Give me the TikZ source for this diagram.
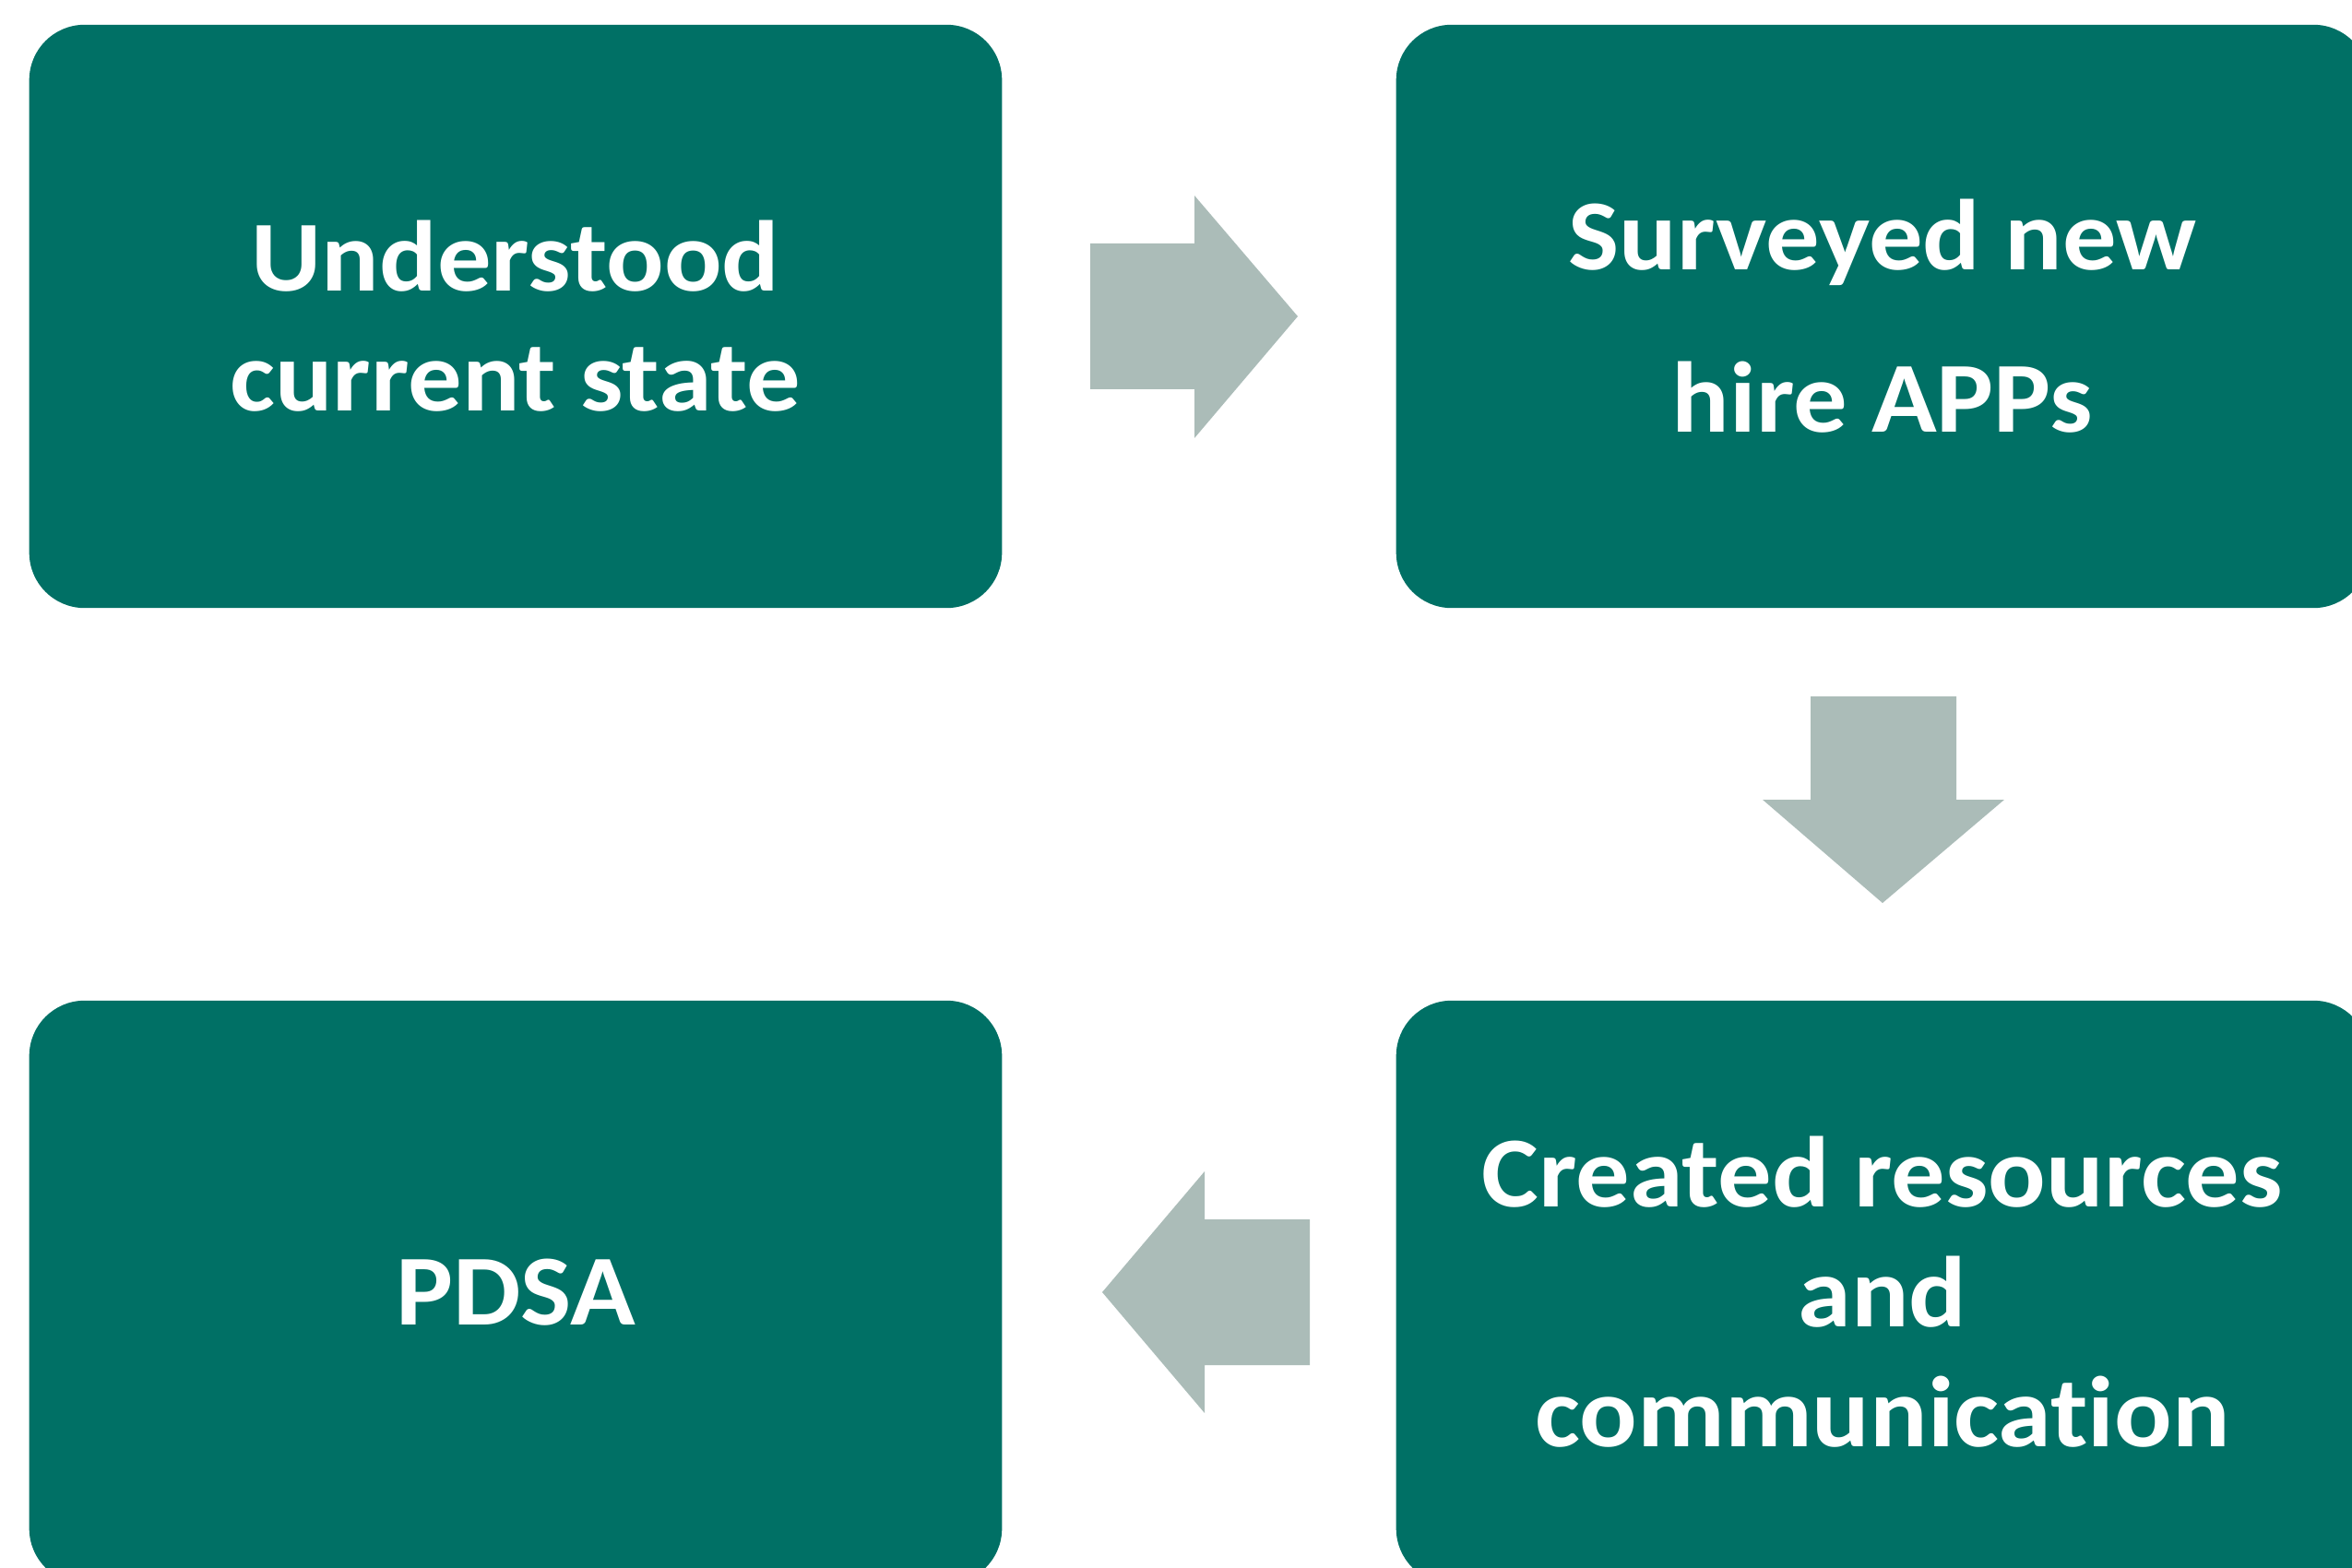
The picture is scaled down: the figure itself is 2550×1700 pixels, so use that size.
\documentclass[tikz,border=0pt]{standalone}
\usepackage{fontspec}
\setmainfont{Carlito}[FakeStretch=1.07, Ligatures=NoCommon]
\definecolor{teal}{RGB}{0,112,101}
\definecolor{arrowgray}{RGB}{171,188,184}
\tikzset{
  stepbox/.style={rectangle, rounded corners=0.6cm, fill=teal, text=white, inner sep=0pt,
    minimum width=10.54cm, minimum height=6.32cm, align=center,
    font=\bfseries\fontsize{31pt}{37pt}\selectfont},
  blockarrow/.style={fill=arrowgray, draw=none}
}
\begin{document}
\begin{tikzpicture}[x=0.01cm,y=-0.01cm]
\useasboundingbox (0,0) rectangle (2550,1700);
\clip (0,0) rectangle (2550,1700);
\node[stepbox] (b1) at (559,343) {\raisebox{3pt}{\parbox{9cm}{\centering Understood\\current state}}};
\node[stepbox, font=\bfseries\fontsize{31pt}{50pt}\selectfont] (b2) at (2041,343) {\raisebox{2pt}{\parbox{9cm}{\centering Surveyed new\\hire APPs}}};
\node[stepbox] (b3) at (559,1401) {PDSA};
\node[stepbox] (b4) at (2041,1401) {Created resources\\and\\communication};
% right arrow
\fill[blockarrow] (1182,264) -- (1295,264) -- (1295,212) -- (1407,343) -- (1295,475) -- (1295,422) -- (1182,422) -- cycle;
% down arrow
\fill[blockarrow] (1963,755) -- (2121,755) -- (2121,867) -- (2173,867) -- (2041,979) -- (1911,867) -- (1963,867) -- cycle;
% left arrow
\fill[blockarrow] (1420,1322) -- (1306,1322) -- (1306,1270) -- (1195,1401) -- (1306,1532) -- (1306,1480) -- (1420,1480) -- cycle;
\end{tikzpicture}
\end{document}
